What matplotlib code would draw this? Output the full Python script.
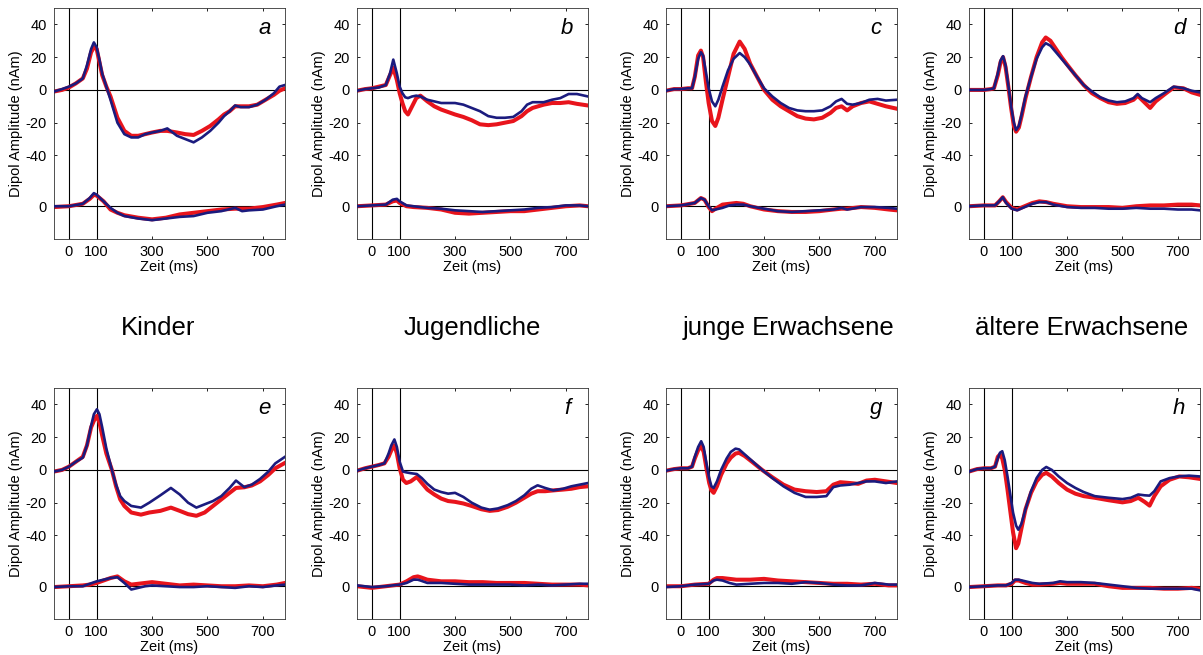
import matplotlib
matplotlib.use('Agg')
import matplotlib.pyplot as plt

plt.rcParams['font.family'] = ['Liberation Sans', 'DejaVu Sans']

RED = '#e8141c'
NAVY = '#1b1b7e'
LOW_OFFSET = -71

LETTERS = ['a', 'b', 'c', 'd', 'e', 'f', 'g', 'h']
GROUPS = ['Kinder', 'Jugendliche', 'junge Erwachsene', 'ältere Erwachsene']
X_TICKS = [0, 100, 300, 500, 700]
Y_TICKS = [40, 20, 0, -20, -40]

# --- a ---
T_A = [-54, -25, 0, 25, 50, 65, 80, 90, 100, 110, 120, 135, 150, 175, 200, 225, 250, 275, 300,
       330, 355, 390, 420, 450, 480, 510, 540, 560, 580, 600, 620, 650, 680, 710, 740, 760, 780]
BLUE_A = [-1, 0.5, 2, 4, 7, 15, 25, 29, 26, 18.5, 10, 2, -6, -20, -27, -29, -29, -27, -26,
          -25, -23.5, -28, -30, -32, -29, -25, -20, -16, -13, -9.5, -10.5, -10.5, -9, -6, -2, 2, 3]
RED_A = [-1, 0, 1.5, 4, 7, 13, 23, 26, 25, 17, 9, 2, -4, -17, -25, -28, -28, -27, -26,
         -25, -25, -26, -27, -27.5, -25, -22, -18, -15, -13, -10, -10, -10, -9, -6, -3, -0.5, 1]
TL_A = [-54, 0, 50, 75, 90, 100, 125, 150, 175, 200, 250, 300, 350, 400, 450, 500, 550, 600,
        625, 650, 700, 750, 780]
BLUE_LOW_A = [0, 0, 1.5, 5, 8, 7, 3, -1, -4, -6, -7.5, -8.5, -7.5, -6.5, -6, -4, -3, -1,
              -3, -2.5, -2, 0, 1]
RED_LOW_A = [-0.5, 0, 1.5, 4.5, 7, 6.5, 3, -2, -4, -5.5, -7, -8, -7, -5, -4, -3, -2, -1.5,
             -1.5, -1.5, -0.5, 1, 2]

# --- b ---
T_B = [-54, -25, 0, 25, 50, 65, 77, 90, 100, 110, 120, 130, 145, 160, 175, 200, 225, 250, 275,
       300, 330, 360, 390, 420, 450, 480, 510, 540, 560, 580, 600, 620, 650, 680, 710, 740, 780]
BLUE_B = [-0.5, 0.5, 1, 1.5, 3, 10, 18.5, 10, 2, -2, -4.5, -5, -4, -3.5, -4, -6, -7, -8, -8,
          -8, -9, -11, -13, -16, -17, -17, -16.5, -13, -9, -7.5, -7.5, -7.5, -6, -5, -2.5, -2.5, -4]
RED_B = [-0.5, 0.5, 1, 2, 3, 9, 13.5, 6, -2, -8, -13, -15, -10, -5, -3.5, -7, -10, -12, -13.5,
         -15, -16.5, -18.5, -21, -21.5, -21, -20, -19, -16, -13, -11, -10, -9, -8, -8, -7.5, -8.5, -9.5]
TL_B = [-54, 0, 50, 75, 90, 100, 125, 150, 200, 250, 300, 350, 400, 450, 500, 550, 600, 650,
        700, 750, 780]
BLUE_LOW_B = [0, 0.5, 1, 4, 4.5, 3, 0.5, 0, -1, -1.5, -2.5, -3, -3.5, -3, -2.5, -2, -1, -0.5,
              0.5, 0.5, 0]
RED_LOW_B = [0, 0.5, 1, 3, 3.5, 2, 0, -0.5, -1, -2, -4, -4.5, -4, -3.5, -3, -3, -2, -1,
             0, 0.5, 0]

# --- c ---
T_C = [-54, -25, 0, 25, 40, 50, 62, 72, 80, 90, 100, 112, 124, 135, 150, 170, 190, 212, 230, 250,
       275, 300, 330, 360, 390, 420, 450, 480, 510, 540, 560, 580, 600, 620, 650, 680, 710, 740, 780]
BLUE_C = [-0.5, 0.5, 0.5, 1, 1, 8, 19, 23, 21, 11, 1, -7, -10, -6, 2, 12, 19, 22.5, 20, 15.5,
          8, 1, -4, -8, -11, -12.5, -13, -13, -12.5, -10, -7, -5.5, -8.5, -9, -8, -6, -5.5, -6.5, -6]
RED_C = [-0.5, 0.5, 0.5, 1, 1, 8, 21, 24, 20, 5, -8, -19, -22, -17, -6, 8, 22, 29.5, 25, 16,
         8, 0, -6, -10, -13, -16, -17.5, -18, -17, -14, -11, -10, -12.5, -10, -8, -7, -8.5, -10, -11.5]
TL_C = [-54, 0, 50, 72, 85, 100, 112, 125, 150, 175, 200, 225, 250, 300, 350, 400, 450, 500,
        550, 580, 600, 650, 700, 750, 780]
BLUE_LOW_C = [0, 0.5, 2, 5, 4, 0, -2.5, -2, -1, 0.5, 1, 1, 0, -1.5, -3, -3.5, -3, -2.5,
              -2, -1, -2, -0.5, -0.5, -1, -1.5]
RED_LOW_C = [0, 0.5, 2, 5, 4, -0.5, -3, -1.5, 1, 1.5, 2, 1.5, 0, -2, -3, -3.5, -3.5, -3,
             -2, -1.5, -1.5, -0.5, -1, -2, -2.5]

# --- d ---
T_D = [-54, -25, 0, 25, 36, 50, 60, 69, 78, 88, 98, 108, 116, 126, 136, 150, 170, 190, 210, 223,
       240, 260, 280, 300, 330, 360, 390, 420, 450, 480, 510, 540, 555, 570, 600, 620, 650, 685,
       720, 750, 780]
BLUE_D = [0, 0, 0, 0.5, 1, 10, 18, 20.6, 15, 3, -10, -20, -24.5, -22, -15, -4, 8, 19, 26, 28.5,
          27, 23, 19, 15, 9, 3, -1, -4.5, -6.5, -7.5, -7, -5, -2.5, -5, -7.5, -5, -2, 2,
          1, -0.5, -1.5]
RED_D = [0, 0, 0, 0.5, 1, 9, 17, 20, 14, 2, -11, -22, -25.5, -23, -16, -5, 8, 20, 29, 32,
         30, 25, 20, 15.5, 9, 3, -2, -5, -7.5, -8.5, -8, -6, -3.5, -6, -11, -7, -3, 1.5,
         1, -1.5, -3]
TL_D = [-54, 0, 40, 55, 68, 80, 100, 120, 140, 175, 200, 225, 250, 300, 350, 400, 450, 500,
        550, 600, 650, 700, 750, 780]
BLUE_LOW_D = [0, 0.5, 0.5, 3, 5.5, 2, -1.5, -2.5, -1, 1.5, 2.5, 2.5, 1, -0.5, -1, -1, -1.5, -1.5,
              -1, -1.5, -1.5, -2, -2, -2.5]
RED_LOW_D = [0, 0.5, 0.5, 3, 5.5, 2.5, -1, -2, -0.5, 2, 3, 2.5, 1.5, 0, -0.5, -0.5, -0.5, -1,
             0, 0.5, 0.5, 1, 1, 0.5]

# --- e ---
T_E = [-54, -25, 0, 25, 50, 65, 80, 90, 101, 110, 120, 135, 155, 170, 185, 200, 225, 260, 290,
       330, 368, 400, 430, 460, 490, 520, 550, 580, 603, 633, 660, 690, 720, 745, 780]
BLUE_E = [-1, 0, 2, 5, 7.5, 15, 27, 34, 37, 34, 26, 13, 0, -9, -16, -19, -22, -23, -20,
          -15.5, -11, -15, -20, -23, -21, -19, -16, -11, -6.5, -10.5, -9, -5.5, -1, 4, 8]
RED_E = [-1, 0, 2, 5, 8, 15, 26, 30, 33, 29, 21, 10, 0, -10, -18, -22, -26, -27.3, -26,
         -25, -23, -25, -27, -28, -26, -22, -18, -14, -11, -10.6, -9.5, -7, -3, 1, 4.3]
TL_E = [-54, 0, 50, 75, 100, 125, 150, 175, 200, 225, 250, 275, 300, 350, 400, 450, 500, 550,
        600, 650, 700, 750, 780]
BLUE_LOW_E = [-0.5, 0, 0, 1.5, 3, 4, 5, 5.5, 2, -2, -1, 0, 0.5, 0, -0.5, -0.5, 0, -0.5,
              -1, 0, -0.5, 0.5, 1]
RED_LOW_E = [-0.5, 0, 0.5, 1, 2, 3.5, 5, 6, 3, 1, 1.5, 2, 2.5, 1.5, 0.5, 1, 0.5, 0,
             0, 0.5, 0, 1, 2]

# --- f ---
T_F = [-54, -25, 0, 25, 45, 60, 70, 81, 90, 100, 112, 124, 140, 162, 180, 200, 225, 250, 275,
       300, 330, 360, 395, 425, 455, 490, 520, 550, 575, 598, 625, 655, 690, 720, 750, 780]
BLUE_F = [-0.5, 1, 2, 3, 4, 10, 15, 18.6, 14, 5, -1, -1.5, -2, -2.5, -5, -8.5, -12, -13.5, -14.5,
          -14, -16.5, -20, -23, -24.3, -23.5, -21.5, -19, -15.5, -11.5, -9.4, -11, -12.5, -11.5,
          -10, -9, -8]
RED_F = [-0.5, 1, 2, 3, 4, 8, 12, 15, 10, 1, -6, -8, -7, -4.3, -8, -12, -15, -17.5, -19,
         -19.5, -20.5, -22, -24, -25, -24.5, -22.5, -20, -17, -14.5, -13, -13, -12.5, -12,
         -11.5, -10.5, -10]
TL_F = [-54, 0, 50, 100, 125, 150, 165, 175, 200, 250, 300, 350, 400, 450, 500, 550, 600, 650,
        700, 750, 780]
BLUE_LOW_F = [0.5, -0.5, 0, 1, 2, 4, 4, 3.5, 2, 2, 1.5, 1, 1, 1, 1, 0.5, 1, 0.5, 1, 1.5, 1.5]
RED_LOW_F = [0, -1, 0, 1, 3, 5.5, 6, 5.5, 4, 3, 3, 2.5, 2.5, 2, 2, 2, 1.5, 1, 1, 1, 0.5]

# --- g ---
T_G = [-54, -25, 0, 25, 40, 50, 62, 73, 82, 92, 102, 110, 118, 130, 145, 165, 180, 197, 210,
       230, 260, 293, 330, 370, 410, 450, 490, 525, 550, 575, 610, 640, 670, 700, 740, 780]
BLUE_G = [-0.5, 0.5, 1, 1, 2, 8, 14, 17.5, 14, 4, -5, -10, -11, -7, 0, 7, 11, 13, 12.5,
          9.5, 5, 0, -5, -10, -14, -16.5, -16.5, -16, -10.5, -9.5, -9, -8, -7, -7, -8, -7]
RED_G = [-0.5, 0.5, 1, 1, 2, 7, 12, 14.5, 11, 1, -8, -12.5, -14, -10, -3, 4, 7.5, 10, 10.4,
         8.5, 4.5, 0, -4.5, -9, -12, -13, -13.5, -13, -9, -7.5, -8, -8.5, -6.5, -6, -7, -8]
TL_G = [-54, 0, 50, 100, 118, 130, 150, 175, 200, 250, 300, 350, 400, 450, 500, 550, 600, 650,
        700, 750, 780]
BLUE_LOW_G = [-0.5, 0, 1, 1.5, 3.5, 4, 3.5, 2, 1, 1.5, 2, 2, 1.5, 2.5, 2, 1, 0.5, 0.5, 2, 1, 1]
RED_LOW_G = [0, 0, 1, 1.5, 4, 5, 5, 4.5, 4, 4, 4.5, 3.5, 3, 2.5, 2, 1.5, 1.5, 1, 1.5, 0.5, 0.5]

# --- h ---
T_H = [-54, -25, 0, 25, 40, 50, 58, 66, 75, 85, 95, 105, 116, 124, 135, 150, 170, 190, 210, 225,
       245, 270, 300, 330, 360, 400, 450, 500, 530, 557, 580, 598, 615, 638, 670, 705, 740, 780]
BLUE_H = [-1, 0.5, 1, 1, 2, 7, 10.5, 11.4, 6, -4, -15, -26, -34, -36.5, -33, -24, -13, -5, 0, 1.8,
          0, -4, -8, -11, -13.5, -16, -17, -17.8, -17, -15, -15.5, -15.7, -13, -7, -5, -3.9,
          -3.5, -4]
RED_H = [-1, 0.5, 1, 1, 2, 8, 9.4, 7, 0, -12, -25, -38, -47.8, -45, -36, -24, -14, -7, -3, -1.8,
         -4, -8, -12, -14.5, -16, -17, -18.5, -19.8, -19, -17, -19.5, -21.8, -16, -10, -6, -4,
         -4.5, -5.5]
TL_H = [-54, 0, 50, 80, 100, 112, 125, 150, 175, 200, 250, 275, 300, 350, 400, 450, 500, 550,
        600, 650, 700, 750, 780]
BLUE_LOW_H = [-0.5, 0, 0.5, 0.5, 2, 4, 4, 3, 2, 1.5, 2, 3, 2.5, 2.5, 2, 1, 0, -1,
              -1.5, -1.5, -1.5, -1.5, -2.5]
RED_LOW_H = [-0.5, 0, 0.5, 0.5, 1.5, 3.5, 3.5, 2, 1, 1, 1.5, 2, 1.5, 1.5, 1.5, 0, -1, -1,
             -1, -1.5, -1.5, -1, -1.5]

PANELS = [
    (T_A, BLUE_A, RED_A, TL_A, BLUE_LOW_A, RED_LOW_A),
    (T_B, BLUE_B, RED_B, TL_B, BLUE_LOW_B, RED_LOW_B),
    (T_C, BLUE_C, RED_C, TL_C, BLUE_LOW_C, RED_LOW_C),
    (T_D, BLUE_D, RED_D, TL_D, BLUE_LOW_D, RED_LOW_D),
    (T_E, BLUE_E, RED_E, TL_E, BLUE_LOW_E, RED_LOW_E),
    (T_F, BLUE_F, RED_F, TL_F, BLUE_LOW_F, RED_LOW_F),
    (T_G, BLUE_G, RED_G, TL_G, BLUE_LOW_G, RED_LOW_G),
    (T_H, BLUE_H, RED_H, TL_H, BLUE_LOW_H, RED_LOW_H),
]

W, H = 1203, 655
COL_LEFT = [54, 357, 666, 969]
ROW_BOTTOM = [239, 619]
SIZE = 231


def draw_panel(ax, letter, t, blue, red, tl, blue_low, red_low):
    for x in (0, 100):
        ax.axvline(x, color='black', lw=0.8, zorder=1)
    for y in (0, LOW_OFFSET):
        ax.axhline(y, color='black', lw=0.8, zorder=1)

    ax.plot(t, red, color=RED, lw=2.9, solid_joinstyle='round', zorder=2)
    ax.plot(t, blue, color=NAVY, lw=1.9, solid_joinstyle='round', zorder=3)
    ax.plot(tl, [v + LOW_OFFSET for v in red_low], color=RED, lw=2.9, zorder=2)
    ax.plot(tl, [v + LOW_OFFSET for v in blue_low], color=NAVY, lw=1.9, zorder=3)

    ax.set_xlim(-54, 780)
    ax.set_ylim(-91, 50)
    ax.set_xticks(X_TICKS)
    ax.set_xticklabels([str(x) for x in X_TICKS])
    ax.set_yticks(Y_TICKS + [LOW_OFFSET])
    ax.set_yticklabels([str(y) for y in Y_TICKS] + ['0'])
    ax.tick_params(direction='in', length=2.5, width=0.6, labelsize=10.5,
                   top=True, right=True)
    ax.tick_params(axis='y', pad=5)
    ax.tick_params(axis='x', pad=4)
    for s in ax.spines.values():
        s.set_linewidth(0.6)
        s.set_color('#333333')

    ax.set_xlabel('Zeit (ms)', fontsize=10.5, labelpad=1)
    ax.set_ylabel('Dipol Amplitude (nAm)', fontsize=10.5, labelpad=2)
    ax.text(0.91, 0.91, letter, transform=ax.transAxes, fontsize=16,
            style='italic', ha='center', va='center')


fig = plt.figure(figsize=(W / 100, H / 100), dpi=100)

for i, (letter, data) in enumerate(zip(LETTERS, PANELS)):
    row, col = divmod(i, 4)
    left = COL_LEFT[col] / W
    bottom = 1 - ROW_BOTTOM[row] / H
    ax = fig.add_axes([left, bottom, SIZE / W, SIZE / H])
    draw_panel(ax, letter, *data)

# group names between the two rows
for x, name in zip([158, 472, 789, 1082], GROUPS):
    fig.text(x / W, 1 - 335 / H, name, fontsize=18.5, ha='center', va='baseline')

fig.savefig('out.png', dpi=100)
